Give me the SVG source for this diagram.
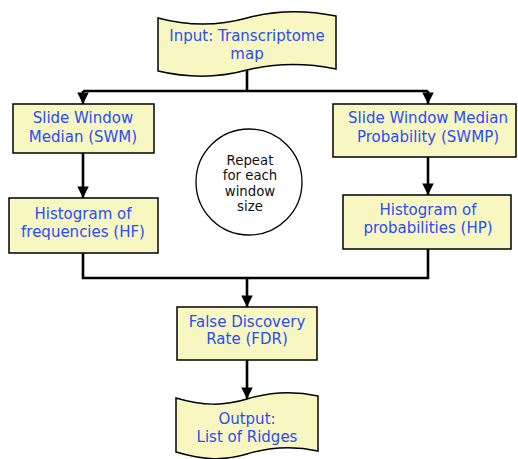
<svg xmlns="http://www.w3.org/2000/svg" width="518" height="459" viewBox="0 0 518 459">
  <defs>
    <marker id="arrow" viewBox="0 0 10 10" refX="10" refY="5" markerWidth="4.6" markerHeight="4.4" markerUnits="strokeWidth" orient="auto">
      <path d="M0,0 L10,5 L0,10 Z" fill="#000"/>
    </marker>
    <style>
      .box { fill: #f8f7c1; stroke: #000; stroke-width: 1.5; }
      .circ { fill: #fff; stroke: #000; stroke-width: 1.3; }
      .lbl { font-family: "DejaVu Sans", Verdana, sans-serif; font-size: 15px; fill: #2a4cf5; text-anchor: middle; }
      .note { font-family: "DejaVu Sans", Verdana, sans-serif; font-size: 13.3px; fill: #111; text-anchor: middle; }
      .wire { fill: none; stroke: #000; stroke-width: 2.6; }
    </style>
  </defs>
  <rect width="518" height="459" fill="#fff"/>

  <g id="connectors">
    <path class="wire" d="M247,69 V91"/>
    <path class="wire" d="M83,91 H428"/>
    <path class="wire" d="M83,91 V104" marker-end="url(#arrow)"/>
    <path class="wire" d="M428,91 V104" marker-end="url(#arrow)"/>
    <path class="wire" d="M83,153 V198" marker-end="url(#arrow)"/>
    <path class="wire" d="M428,157 V195" marker-end="url(#arrow)"/>
    <path class="wire" d="M83,253 V278 H428 V249"/>
    <path class="wire" d="M247,278 V307" marker-end="url(#arrow)"/>
    <path class="wire" d="M247,360 V399" marker-end="url(#arrow)"/>
  </g>

  <g id="input">
    <path class="box" d="M158,18 C188,26 218,26 247,18 C276,10 306,10 336,16 L336,69 C306,63 276,63 247,70 C218,78 188,78 158,71 Z"/>
    <text class="lbl" x="247" y="41">Input: Transcriptome</text>
    <text class="lbl" x="247" y="58.5">map</text>
  </g>

  <g id="swm">
    <rect class="box" x="13" y="104" width="141" height="49"/>
    <text class="lbl" x="83" y="123">Slide Window</text>
    <text class="lbl" x="83" y="142">Median (SWM)</text>
  </g>

  <g id="swmp">
    <rect class="box" x="333" y="104" width="183" height="53"/>
    <text class="lbl" x="428" y="123">Slide Window Median</text>
    <text class="lbl" x="428" y="142">Probability (SWMP)</text>
  </g>

  <g id="repeat">
    <circle class="circ" cx="249" cy="182" r="53"/>
    <text class="note" x="250" y="164.5">Repeat</text>
    <text class="note" x="250" y="180">for each</text>
    <text class="note" x="250" y="195.5">window</text>
    <text class="note" x="250" y="211">size</text>
  </g>

  <g id="hf">
    <rect class="box" x="9" y="198" width="149" height="55"/>
    <text class="lbl" x="83" y="219">Histogram of</text>
    <text class="lbl" x="83" y="236.5">frequencies (HF)</text>
  </g>

  <g id="hp">
    <rect class="box" x="343" y="195" width="168" height="54"/>
    <text class="lbl" x="428" y="215">Histogram of</text>
    <text class="lbl" x="428" y="232.5">probabilities (HP)</text>
  </g>

  <g id="fdr">
    <rect class="box" x="177" y="307" width="140" height="53"/>
    <text class="lbl" x="247" y="326.5">False Discovery</text>
    <text class="lbl" x="247" y="344">Rate (FDR)</text>
  </g>

  <g id="output">
    <path class="box" d="M176,398 C203,406 224,406 247,399 C270,392 295,391 318,396 L318,451 C295,446 270,447 247,454 C224,461 203,460 176,452 Z"/>
    <text class="lbl" x="247" y="424">Output:</text>
    <text class="lbl" x="247" y="442">List of Ridges</text>
  </g>
</svg>
